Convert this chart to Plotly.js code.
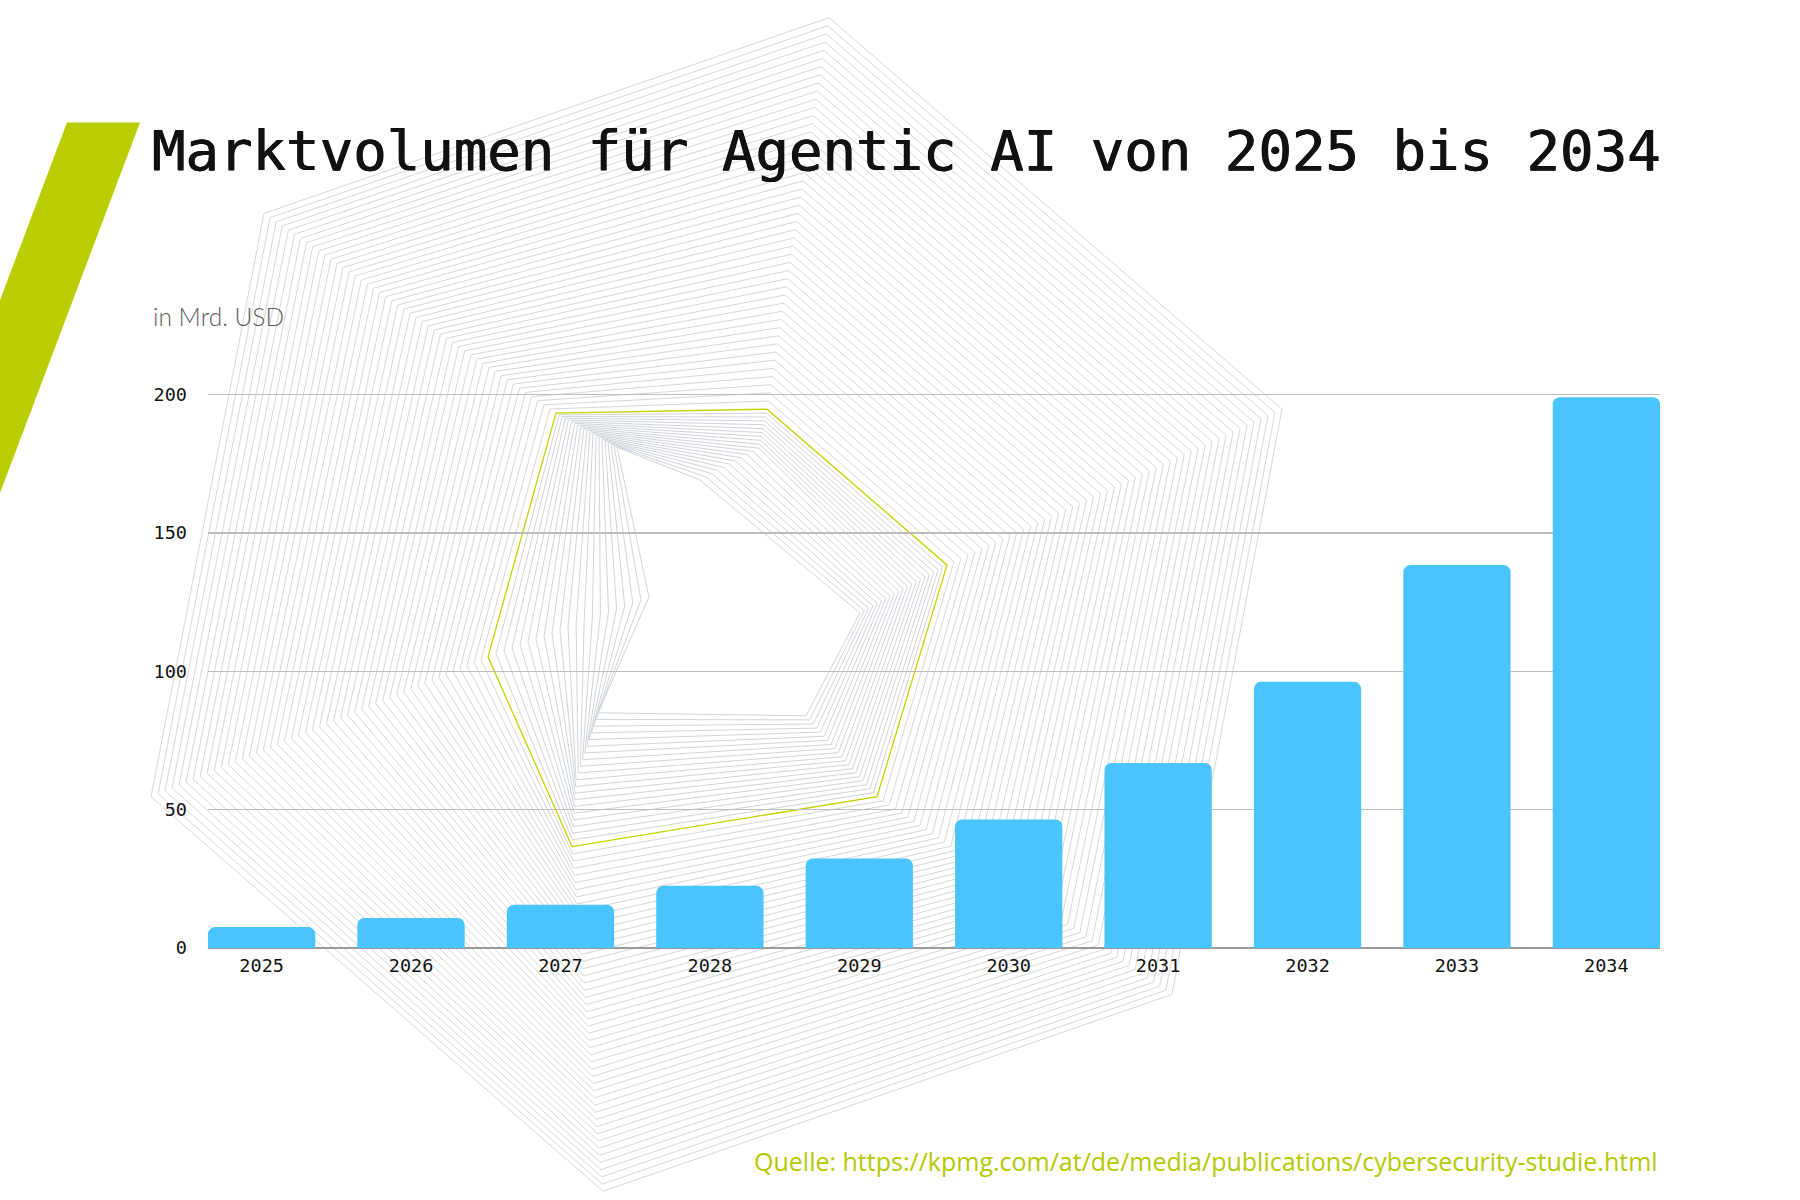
<!DOCTYPE html>
<html lang="de">
<head>
<meta charset="utf-8">
<title>Marktvolumen für Agentic AI</title>
<script src="https://cdn.plot.ly/plotly-3.0.1.min.js"></script>
<style>
  html, body { margin: 0; padding: 0; background: #fff; }
  #chart { width: 1800px; height: 1200px; }
</style>
</head>
<body>
<div id="chart"></div>
<script>
// ── Data ──────────────────────────────────────────────────────────────────
const years  = ['2025', '2026', '2027', '2028', '2029', '2030', '2031', '2032', '2033', '2034'];
const volume = [7.55, 10.86, 15.62, 22.47, 32.32, 46.49, 66.88, 96.2, 138.4, 199.05];
const yTicks = [0, 50, 100, 150, 200];

const titleText  = 'Marktvolumen für Agentic AI von 2025 bis 2034';
const unitText   = 'in Mrd. USD';
const sourceText = 'Quelle: https://kpmg.com/at/de/media/publications/cybersecurity-studie.html';

// ── Background ornament (pixel outlines, blended ring to ring) ────────────
const hexOuter  = [[264, 213], [829, 17], [1282, 409], [1172, 995], [603, 1192], [151, 797]];
const hexAccent = [[556, 413], [767, 409], [947, 565], [877, 797], [572, 847], [488, 657]];
const hexMid    = [[587, 430], [759, 448], [903, 589], [842, 757], [576, 780], [568, 627]];
const hexInner  = [[617, 447], [700, 480], [860, 613], [806, 716], [598, 713], [649, 597]];
const logoBar   = [[67, 122], [140, 122], [0, 493], [0, 300]];

// ── Layout helpers: page pixels -> paper coords ───────────────────────────
const M  = {l: 208, r: 140, t: 392.8, b: 251.5};
const PW = 1800 - M.l - M.r;
const PH = 1200 - M.t - M.b;
const px = x => (x - M.l) / PW;
const py = y => 1 - (y - M.t) / PH;

function pathOf(pts) {
  return 'M ' + pts.map(p => px(p[0]).toFixed(5) + ',' + py(p[1]).toFixed(5)).join(' L ') + ' Z';
}

function blend(a, b, t) {
  return a.map((p, i) => [p[0] + (b[i][0] - p[0]) * t, p[1] + (b[i][1] - p[1]) * t]);
}

function ring(pts, color, width) {
  return {
    type: 'path', xref: 'paper', yref: 'paper', layer: 'below',
    path: pathOf(pts), line: {color: color, width: width},
  };
}

const shapes = [];

// green slanted bar top-left
shapes.push({
  type: 'path', xref: 'paper', yref: 'paper', layer: 'below',
  path: pathOf(logoBar), fillcolor: '#b9cd00', line: {width: 0},
});

// outer rings -> accent ring
const outerSteps = 48;
for (let i = 0; i < outerSteps; i++) {
  shapes.push(ring(blend(hexOuter, hexAccent, i / outerSteps), '#d6d6d6', 1));
}
// accent ring -> mid -> inner rings
const innerSteps = 10;
for (let i = 1; i <= innerSteps; i++) {
  shapes.push(ring(blend(hexAccent, hexMid, i / innerSteps), '#cfd3da', 1));
}
for (let i = 1; i <= innerSteps; i++) {
  shapes.push(ring(blend(hexMid, hexInner, i / innerSteps), '#cfd3da', 1));
}
// highlighted ring
shapes.push(ring(hexAccent, '#c3d300', 1.3));

// ── Chart ─────────────────────────────────────────────────────────────────
const monoFont = 'DejaVu Sans Mono, Liberation Mono, monospace';

const traces = [{
  type: 'bar',
  x: years,
  y: volume,
  marker: {color: '#4ac4fc', cornerradius: 7},
  hoverinfo: 'skip',
}];

const layout = {
  width: 1800,
  height: 1200,
  margin: M,
  paper_bgcolor: '#ffffff',
  plot_bgcolor: 'rgba(0,0,0,0)',
  showlegend: false,
  bargap: 0.282,
  font: {family: monoFont, color: '#222'},
  xaxis: {
    type: 'category',
    range: [-0.359, 9.359],
    showgrid: false,
    zeroline: false,
    showline: false,
    ticks: '',
    ticklabelstandoff: 4,
    tickfont: {family: monoFont, size: 18.5, color: '#111'},
    fixedrange: true,
  },
  yaxis: {
    range: [0, 200.6],
    tickvals: yTicks,
    ticktext: yTicks.map(String),
    showgrid: true,
    gridcolor: '#bdbdbd',
    gridwidth: 1.5,
    zeroline: true,
    zerolinecolor: '#9a9a9a',
    zerolinewidth: 1.5,
    showline: false,
    ticks: '',
    ticklabelstandoff: 20,
    tickfont: {family: monoFont, size: 18.5, color: '#111'},
    fixedrange: true,
  },
  shapes: shapes,
  annotations: [
    {
      text: titleText, xref: 'paper', yref: 'paper',
      x: px(150), y: py(150), xanchor: 'left', yanchor: 'middle',
      showarrow: false,
      font: {family: monoFont, size: 55.7, color: '#111',
             shadow: '0.5px 0 0 #111, -0.5px 0 0 #111'},
    },
    {
      text: unitText, xref: 'paper', yref: 'paper',
      x: px(151), y: py(316), xanchor: 'left', yanchor: 'middle',
      showarrow: false,
      font: {family: 'Lato, Open Sans, sans-serif', size: 24.5, color: '#5c5c5c', weight: 300},
    },
    {
      text: sourceText, xref: 'paper', yref: 'paper',
      x: px(1660), y: py(1162), xanchor: 'right', yanchor: 'middle',
      showarrow: false,
      font: {family: 'Open Sans, Lato, sans-serif', size: 25, color: '#b5c900'},
    },
  ],
};

Plotly.newPlot('chart', traces, layout, {displayModeBar: false, staticPlot: true});
</script>
</body>
</html>
